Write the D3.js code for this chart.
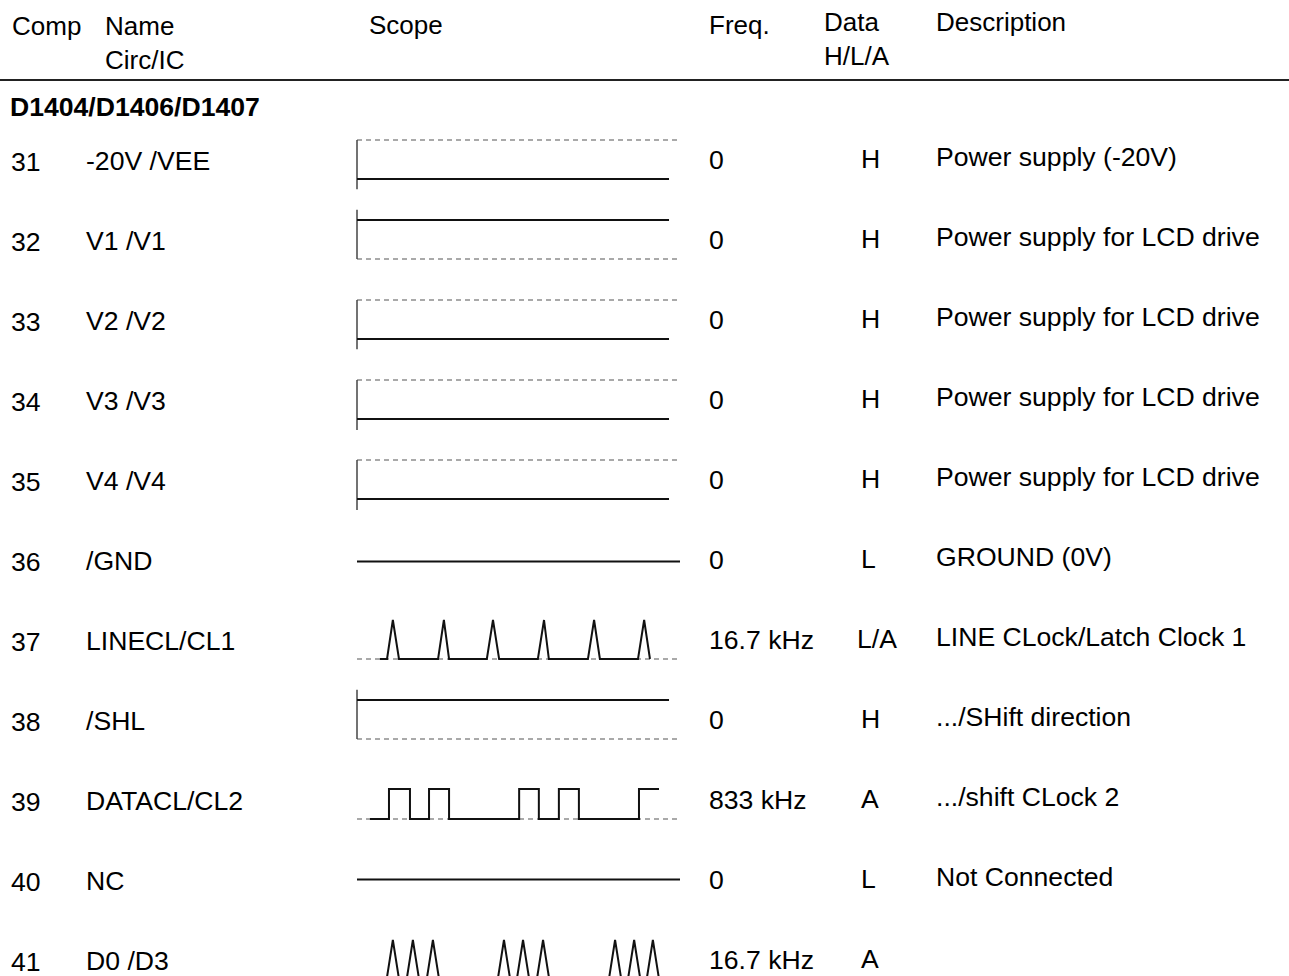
<!DOCTYPE html>
<html>
<head>
<meta charset="utf-8">
<script src="https://cdn.jsdelivr.net/npm/d3@7"></script>
<style>
  html, body { margin: 0; padding: 0; background: #fff; }
  svg { display: block; }
  text { font-family: "Liberation Sans", Arial, Helvetica, sans-serif; fill: #000; }
</style>
</head>
<body>
<svg id="chart" width="1289" height="976"></svg>
<script>
// ---------- DATA ----------
const groupTitle = "D1404/D1406/D1407";
const headers = [
  { lines: ["Comp"], col: "comp" },
  { lines: ["Name", "Circ/IC"], col: "name" },
  { lines: ["Scope"], col: "scope" },
  { lines: ["Freq."], col: "freq" },
  { lines: ["Data", "H/L/A"], col: "data" },
  { lines: ["Description"], col: "desc" }
];
const comps = ["31","32","33","34","35","36","37","38","39","40","41"];
const names = ["-20V /VEE","V1 /V1","V2 /V2","V3 /V3","V4 /V4","/GND","LINECL/CL1","/SHL","DATACL/CL2","NC","D0 /D3"];
const freqs = ["0","0","0","0","0","0","16.7 kHz","0","833 kHz","0","16.7 kHz"];
const dataHLA = ["H","H","H","H","H","L","L/A","H","A","L","A"];
const descs = ["Power supply (-20V)","Power supply for LCD drive","Power supply for LCD drive",
  "Power supply for LCD drive","Power supply for LCD drive","GROUND (0V)",
  "LINE CLock/Latch Clock 1",".../SHift direction",".../shift CLock 2","Not Connected",""];

// Scope: dashed reference level (null = none), solid trace [time, level], marker [from, to] levels
const scopeRef = [1, 0, 1, 1, 1, null, 0, 0, 0, null, null];
const scopeMarker = [[1,-0.26],[1.26,0],[1,-0.26],[1,-0.28],[1,-0.28],null,null,[1.26,0],null,null,null];
const scopeTrace = [
  [[0,0],[96.6,0]],
  [[0,1],[96.6,1]],
  [[0,0],[96.6,0]],
  [[0,0],[96.6,0]],
  [[0,0],[96.6,0]],
  [[0,0.45],[100,0.45]],
  [[7.1,0],[9.3,0],[11.1,1],[13.0,0],[25.1,0],[26.9,1],[28.5,0],[40.2,0],[42.1,1],[44.0,0],
   [56.0,0],[57.9,1],[59.4,0],[71.5,0],[73.4,1],[75.2,0],[87.0,0],[88.9,1],[90.7,0]],
  [[0,1],[96.6,1]],
  [[4.0,0],[9.9,0],[9.9,0.77],[16.4,0.77],[16.4,0],[22.3,0],[22.3,0.77],[28.5,0.77],[28.5,0],
   [50.2,0],[50.2,0.77],[56.3,0.77],[56.3,0],[62.5,0],[62.5,0.77],[68.7,0.77],[68.7,0],
   [87.3,0],[87.3,0.77],[93.5,0.77]],
  [[0,0.5],[100,0.5]],
  [[9.2,0],[11.1,1],[13.0,0],[15.4,0],[17.3,1],[19.2,0],[21.6,0],[23.5,1],[25.4,0],
   [43.6,0],[45.5,1],[47.4,0],[49.5,0],[51.4,1],[53.3,0],[55.7,0],[57.6,1],[59.5,0],
   [78.0,0],[79.9,1],[81.8,0],[83.9,0],[85.8,1],[87.7,0],[89.7,0],[91.6,1],[93.5,0]]
];

// ---------- LAYOUT ----------
const svg = d3.select("#chart");
const colX = { comp: 11, name: 86, scope: 369, freq: 709, data: 861, desc: 936 };
const headerX = { comp: 12, name: 105, scope: 369, freq: 709, data: 824, desc: 936 };
const headerBase = { comp: [35], name: [35, 69], scope: [34], freq: [34], data: [31, 65], desc: [31] };
const rowOffset = { comp: 11, name: 10, freq: 9, data: 8, desc: 6 };
const headerFont = 26;
const rowFont = 26.6;

const rowScale = d3.scaleBand().domain(comps).range([120, 120 + 80 * comps.length]).paddingInner(0);
const center = c => rowScale(c) + rowScale.bandwidth() / 2;
const xScope = d3.scaleLinear().domain([0, 100]).range([357, 680]);

// headers
headers.forEach(h => {
  h.lines.forEach((ln, i) => {
    svg.append("text")
      .attr("x", headerX[h.col])
      .attr("y", headerBase[h.col][i])
      .attr("font-size", headerFont)
      .text(ln);
  });
});

// header rule
svg.append("line")
  .attr("x1", 0).attr("x2", 1289)
  .attr("y1", 80).attr("y2", 80)
  .attr("stroke", "#222").attr("stroke-width", 1.8);

// group title
svg.append("text")
  .attr("x", 10).attr("y", 116)
  .attr("font-size", rowFont)
  .attr("font-weight", "bold")
  .text(groupTitle);

// rows
const rows = svg.selectAll("g.row").data(comps).join("g").attr("class", "row");

rows.each(function(c, i) {
  const g = d3.select(this);
  const cy = center(c);
  const cols = [["comp", comps[i]], ["name", names[i]], ["freq", freqs[i]], ["data", dataHLA[i]], ["desc", descs[i]]];
  cols.forEach(([col, txt]) => {
    if (!txt) return;
    g.append("text")
      .attr("x", col === "data" && txt.length > 1 ? colX.data - 4 : colX[col])
      .attr("y", cy + rowOffset[col])
      .attr("font-size", rowFont)
      .text(txt);
  });

  const yS = d3.scaleLinear().domain([0, 1]).range([cy + 19, cy - 20]);

  // dashed reference
  if (scopeRef[i] !== null) {
    g.append("line")
      .attr("x1", xScope(0)).attr("x2", xScope(100))
      .attr("y1", yS(scopeRef[i])).attr("y2", yS(scopeRef[i]))
      .attr("stroke", "#555").attr("stroke-width", 1.2)
      .attr("stroke-dasharray", "5,4");
  }
  // marker
  if (scopeMarker[i]) {
    g.append("line")
      .attr("x1", xScope(0)).attr("x2", xScope(0))
      .attr("y1", yS(scopeMarker[i][0])).attr("y2", yS(scopeMarker[i][1]))
      .attr("stroke", "#444").attr("stroke-width", 1.5);
  }
  // solid trace
  const line = d3.line().x(d => xScope(d[0])).y(d => yS(d[1]));
  g.append("path")
    .attr("d", line(scopeTrace[i]))
    .attr("fill", "none")
    .attr("stroke", "#111")
    .attr("stroke-width", 2)
    .attr("stroke-linejoin", "miter");
});
</script>
</body>
</html>
